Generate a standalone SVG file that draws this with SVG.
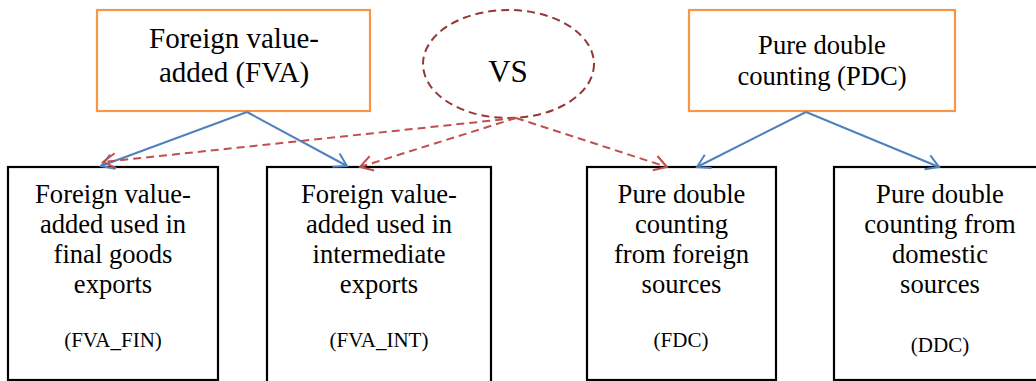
<svg xmlns="http://www.w3.org/2000/svg" width="1036" height="381" viewBox="0 0 1036 381">
<defs>
<style>
text{fill:#000;text-anchor:middle}
.top{fill:#fff;stroke:#F79646;stroke-width:2.2}
.box{fill:#fff;stroke:#000;stroke-width:2.2}
.blue{stroke:#4F81BD;stroke-width:2;fill:none;marker-end:url(#ab)}
.red{stroke:#C0504D;stroke-width:2;fill:none;stroke-dasharray:8,5;marker-end:url(#ar)}
.big{font-size:29px}
.mid{font-size:26.6px}
.sm{font-size:21px}
</style>
<marker id="ab" markerUnits="userSpaceOnUse" markerWidth="18" markerHeight="18" viewBox="-15 -9 18 18" refX="0" refY="0" orient="auto"><path d="M-12.5,-7.5 L0,0 L-12.5,7.5" fill="none" stroke="#4F81BD" stroke-width="2"/></marker>
<marker id="ar" markerUnits="userSpaceOnUse" markerWidth="18" markerHeight="18" viewBox="-15 -9 18 18" refX="0" refY="0" orient="auto"><path d="M-12.5,-7.5 L0,0 L-12.5,7.5" fill="none" stroke="#C0504D" stroke-width="2"/></marker>
</defs>
<rect width="1036" height="381" fill="#fff"/>
<g font-family="'Liberation Serif', 'DejaVu Serif', serif">
<g id="fva">
<rect class="top" x="97" y="10" width="273" height="101"/>
<text class="big" x="234" y="48">Foreign value-</text>
<text class="big" x="234" y="82">added (FVA)</text>
</g>
<g id="vs">
<ellipse cx="508.5" cy="64" rx="85.5" ry="54" fill="none" stroke="#953735" stroke-width="2" stroke-dasharray="8,5"/>
<text x="508" y="82" style="font-size:31px">VS</text>
</g>
<g id="pdc">
<rect class="top" x="689" y="10" width="266" height="101"/>
<text class="mid" x="822" y="54">Pure double</text>
<text class="mid" x="822" y="85">counting (PDC)</text>
</g>
<g id="fva_fin">
<rect class="box" x="8" y="167" width="210" height="213"/>
<text class="mid" x="113" y="203">Foreign value-</text>
<text class="mid" x="113" y="233">added used in</text>
<text class="mid" x="113" y="263">final goods</text>
<text class="mid" x="113" y="293">exports</text>
<text class="sm" x="113" y="347">(FVA_FIN)</text>
</g>
<g id="fva_int">
<rect class="box" x="267" y="167" width="224" height="218"/>
<text class="mid" x="379" y="203">Foreign value-</text>
<text class="mid" x="379" y="233">added used in</text>
<text class="mid" x="379" y="263">intermediate</text>
<text class="mid" x="379" y="293">exports</text>
<text class="sm" x="379" y="347">(FVA_INT)</text>
</g>
<g id="fdc">
<rect class="box" x="587" y="167" width="189" height="213"/>
<text class="mid" x="681.5" y="203">Pure double</text>
<text class="mid" x="681.5" y="233">counting</text>
<text class="mid" x="681.5" y="263">from foreign</text>
<text class="mid" x="681.5" y="293">sources</text>
<text class="sm" x="681" y="347">(FDC)</text>
</g>
<g id="ddc">
<rect class="box" x="834" y="167" width="215" height="213"/>
<text class="mid" x="940" y="203">Pure double</text>
<text class="mid" x="940" y="233">counting from</text>
<text class="mid" x="940" y="263">domestic</text>
<text class="mid" x="940" y="293">sources</text>
<text class="sm" x="940" y="352">(DDC)</text>
</g>
</g>
<g id="connectors">
<line class="blue" x1="247" y1="112" x2="101" y2="166"/>
<line class="blue" x1="247" y1="112" x2="347" y2="166"/>
<line class="blue" x1="806" y1="112" x2="697" y2="167"/>
<line class="blue" x1="806" y1="112" x2="939" y2="167"/>
<line class="red" x1="516" y1="118" x2="103" y2="162"/>
<line class="red" x1="516" y1="118" x2="360" y2="167"/>
<line class="red" x1="516" y1="118" x2="667" y2="167"/>
</g>
</svg>
